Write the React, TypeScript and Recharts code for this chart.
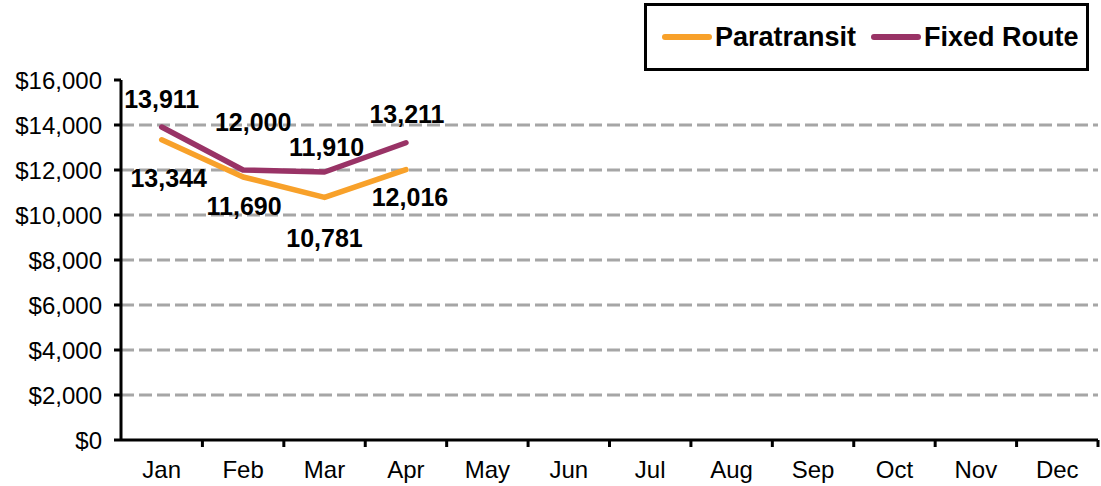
import { LineChart, Line, XAxis, YAxis, ReferenceLine, LabelList } from "recharts";

const months = ["Jan", "Feb", "Mar", "Apr", "May", "Jun", "Jul", "Aug", "Sep", "Oct", "Nov", "Dec"];
const paratransit = [13344, 11690, 10781, 12016];
const fixedRoute = [13911, 12000, 11910, 13211];
const yTicks = [0, 2000, 4000, 6000, 8000, 10000, 12000, 14000, 16000];

const data = months.map((m, i) => ({
  month: m,
  paratransit: paratransit[i] ?? null,
  fixedRoute: fixedRoute[i] ?? null,
}));

const FONT = "'Liberation Sans', Arial, sans-serif";
const ORANGE = "#F8A12A";
const PURPLE = "#993366";
const W = 1101;
const H = 486;
const PLOT_LEFT = 121;
const PLOT_RIGHT = 1098;
const BAND = (PLOT_RIGHT - PLOT_LEFT) / months.length;

// label nudges (dx, dy) so the numbers sit like the original
const fixedOffsets = [[0, -28], [10, -48], [2, -25], [1, -29]];
const paraOffsets = [[7, 38], [1, 29], [0, 41], [4, 27]];

const makeLabel = (offsets: number[][]) => (p: any) => {
  const { x, y, value, index } = p;
  if (value == null) return null;
  const [dx, dy] = offsets[index] ?? [0, -20];
  return (
    <text x={x + dx} y={y + dy} textAnchor="middle" dominantBaseline="central" fontFamily={FONT} fontWeight="bold" fontSize={25} fill="#000">
      {Number(value).toLocaleString("en-US")}
    </text>
  );
};

function MonthTick(props: any) {
  const { x, y, payload } = props;
  return (
    <g>
      <line x1={x + BAND / 2} x2={x + BAND / 2} y1={y} y2={y + 7} stroke="#000" strokeWidth={3} />
      <text x={x} y={y + 38} textAnchor="middle" fontFamily={FONT} fontSize={24} fill="#000">
        {payload.value}
      </text>
    </g>
  );
}

function LegendBox() {
  const item = (color: string, label: string, gap: number) => (
    <div style={{ display: "flex", alignItems: "center", marginLeft: gap }}>
      <div style={{ width: 50, height: 6, borderRadius: 3, background: color, marginRight: 3 }} />
      <span style={{ fontFamily: FONT, fontWeight: "bold", fontSize: 27, color: "#000" }}>{label}</span>
    </div>
  );
  return (
    <div
      style={{
        position: "absolute",
        left: 644,
        top: 3,
        width: 445,
        height: 68,
        boxSizing: "border-box",
        border: "3px solid #000",
        display: "flex",
        alignItems: "center",
        background: "#fff",
      }}
    >
      {item(ORANGE, "Paratransit", 15)}
      {item(PURPLE, "Fixed Route", 15)}
    </div>
  );
}

export default function App() {
  return (
    <div style={{ position: "absolute", left: 0, top: 0, width: W, height: H, background: "#fff" }}>
      <LineChart width={W} height={H} data={data} margin={{ top: 80, right: W - PLOT_RIGHT, left: 0, bottom: 0 }}>
        <XAxis
          dataKey="month"
          interval={0}
          height={H - 440}
          padding={{ left: BAND / 2, right: BAND / 2 }}
          axisLine={{ stroke: "#000", strokeWidth: 3 }}
          tickLine={false}
          tickSize={0}
          tickMargin={0}
          tick={<MonthTick />}
        />
        <YAxis
          type="number"
          domain={[0, 16000]}
          ticks={yTicks}
          interval={0}
          width={PLOT_LEFT}
          axisLine={{ stroke: "#000", strokeWidth: 3 }}
          tickLine={{ stroke: "#000", strokeWidth: 3 }}
          tickSize={7}
          tickMargin={12}
          tick={{ fontFamily: FONT, fontSize: 24, fill: "#000" }}
          tickFormatter={(v: number) => `$${v.toLocaleString("en-US")}`}
        />
        {yTicks
          .filter((v) => v > 0 && v < 16000)
          .map((v) => (
            <ReferenceLine key={v} y={v} stroke="#A6A6A6" strokeWidth={3} strokeDasharray="13 5" />
          ))}
        <Line type="linear" dataKey="paratransit" stroke={ORANGE} strokeWidth={5.5} strokeLinejoin="round" strokeLinecap="round" dot={false} isAnimationActive={false}>
          <LabelList dataKey="paratransit" content={makeLabel(paraOffsets)} />
        </Line>
        <Line type="linear" dataKey="fixedRoute" stroke={PURPLE} strokeWidth={5.5} strokeLinejoin="round" strokeLinecap="round" dot={false} isAnimationActive={false}>
          <LabelList dataKey="fixedRoute" content={makeLabel(fixedOffsets)} />
        </Line>
      </LineChart>
      <LegendBox />
    </div>
  );
}
